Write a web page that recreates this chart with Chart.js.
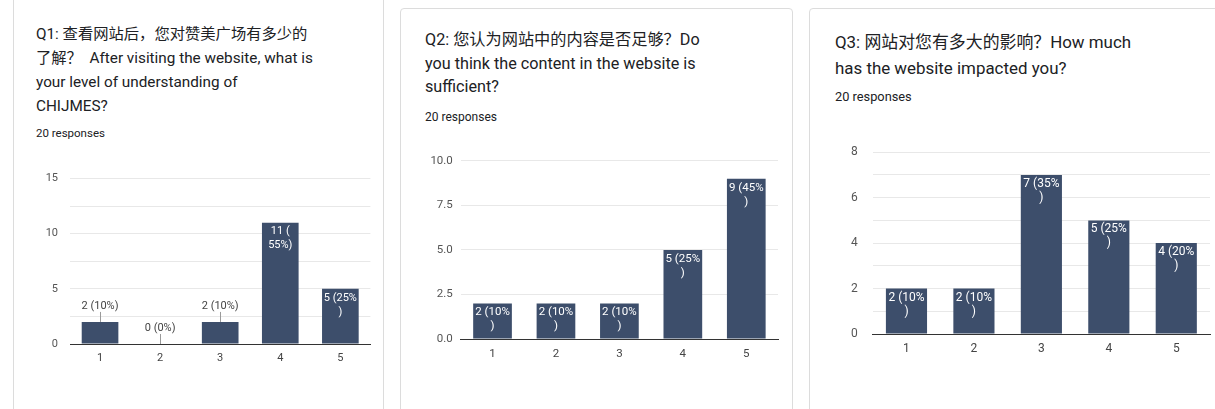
<!DOCTYPE html>
<html>
<head>
<meta charset="utf-8">
<script src="https://cdn.jsdelivr.net/npm/chart.js@4/dist/chart.umd.min.js"></script>
<style>
  html, body { margin:0; padding:0; background:#ffffff; width:1215px; height:409px; overflow:hidden; }
  .card { position:absolute; background:#fff; border:1px solid #dcdcdc; box-sizing:border-box; }
  .title { position:absolute; color:#202124; font-family:Roboto, "Noto Sans CJK SC", sans-serif; white-space:nowrap; }
  .resp { position:absolute; color:#202124; font-family:Roboto, sans-serif; white-space:nowrap; }
  canvas { position:absolute; }
</style>
</head>
<body>
<div class="card" style="left:13px;top:-2px;width:371px;height:430px;border-top:none;"></div>
<div class="card" style="left:400px;top:8px;width:393px;height:430px;border-radius:4px;"></div>
<div class="card" style="left:809px;top:8px;width:420px;height:430px;border-radius:4px;"></div>

<div class="title" style="left:36px;top:22px;font-size:15.3px;line-height:24px;">Q1: 查看网站后，您对赞美广场有多少的<br>了解？&nbsp; After visiting the website, what is<br>your level of understanding of<br>CHIJMES?</div>
<div class="resp" style="left:36px;top:125px;font-size:11.5px;line-height:16px;">20 responses</div>

<div class="title" style="left:425px;top:28px;font-size:16.2px;line-height:23.5px;">Q2: 您认为网站中的内容是否足够？Do<br>you think the content in the website is<br>sufficient?</div>
<div class="resp" style="left:425px;top:109px;font-size:12px;line-height:16px;">20 responses</div>

<div class="title" style="left:835px;top:29px;font-size:16.9px;line-height:26px;">Q3: 网站对您有多大的影响？How much<br>has the website impacted you?</div>
<div class="resp" style="left:835px;top:89px;font-size:12.8px;line-height:16px;">20 responses</div>

<canvas id="c1" width="350" height="215" style="left:30px;top:160px;"></canvas>
<canvas id="c2" width="370" height="225" style="left:420px;top:146px;"></canvas>
<canvas id="c3" width="385" height="235" style="left:830px;top:130px;"></canvas>

<script>
// ---- data ----
const categories = ['1', '2', '3', '4', '5'];

const q1Values = [2, 0, 2, 11, 5];
const q1Labels = [['2 (10%)'], ['0 (0%)'], ['2 (10%)'], ['11 (', '55%)'], ['5 (25%', ')']];
const q1YTicks = [0, 5, 10, 15];

const q2Values = [2, 2, 2, 5, 9];
const q2Labels = [['2 (10%', ')'], ['2 (10%', ')'], ['2 (10%', ')'], ['5 (25%', ')'], ['9 (45%', ')']];
const q2YTicks = [0, 2.5, 5, 7.5, 10];

const q3Values = [2, 2, 7, 5, 4];
const q3Labels = [['2 (10%', ')'], ['2 (10%', ')'], ['7 (35%', ')'], ['5 (25%', ')'], ['4 (20%', ')']];
const q3YTicks = [0, 2, 4, 6, 8];

// ---- drawing ----
const BAR = '#3d4e6b';
const FONT = 'Roboto, Arial, sans-serif';

const barLabelPlugin = {
  id: 'barLabels',
  afterDatasetsDraw(chart, args, opts) {
    const ctx = chart.ctx;
    const meta = chart.getDatasetMeta(0);
    const labels = opts.labels;
    ctx.save();
    ctx.font = opts.fontSize + 'px ' + FONT;
    ctx.textAlign = 'center';
    ctx.textBaseline = 'middle';
    meta.data.forEach((bar, i) => {
      const lines = labels[i];
      const h = bar.base - bar.y;
      if (h >= 30) {
        ctx.fillStyle = '#ffffff';
        lines.forEach((t, k) => ctx.fillText(t, bar.x, bar.y + 9 + k * 14));
      } else {
        const cy = bar.y - 16;
        ctx.fillStyle = '#444444';
        ctx.fillText(lines.join(''), bar.x, cy);
        ctx.strokeStyle = '#9a9a9a';
        ctx.lineWidth = 1;
        ctx.beginPath();
        ctx.moveTo(Math.round(bar.x) + 0.5, cy + 6);
        ctx.lineTo(Math.round(bar.x) + 0.5, bar.y);
        ctx.stroke();
      }
    });
    ctx.restore();
  }
};

function makeChart(id, values, labels, yTicks, step, decimals, geo) {
  const yMax = yTicks[yTicks.length - 1];
  new Chart(document.getElementById(id), {
    type: 'bar',
    data: {
      labels: categories,
      datasets: [{ data: values, backgroundColor: BAR, borderWidth: 0,
                   categoryPercentage: 1.0, barPercentage: 0.61 }]
    },
    options: {
      responsive: false,
      animation: false,
      layout: { padding: { top: geo.top, right: geo.right, left: 0, bottom: 0 } },
      plugins: {
        legend: { display: false },
        tooltip: { enabled: false },
        barLabels: { labels: labels, fontSize: geo.font }
      },
      scales: {
        x: {
          grid: { display: false, drawTicks: false },
          border: { display: true, color: '#333333', width: 1 },
          ticks: { color: '#444444', padding: 8, font: { family: FONT, size: geo.font } },
          afterFit: (s) => { s.height = geo.xh; }
        },
        y: {
          min: 0, max: yMax,
          grid: { color: '#e8e8e8', drawTicks: false },
          border: { display: false },
          ticks: {
            stepSize: step,
            color: '#555555',
            padding: geo.ypad,
            font: { family: FONT, size: geo.font },
            callback: (v) => yTicks.some(t => Math.abs(t - v) < 1e-9) ? Number(v).toFixed(decimals) : ''
          },
          afterFit: (s) => { s.width = geo.yw; }
        }
      }
    },
    plugins: [barLabelPlugin]
  });
}

makeChart('c1', q1Values, q1Labels, q1YTicks, 2.5, 0,
  { top: 13, right: 9.6, xh: 31, yw: 40, ypad: 12, font: 11 });
makeChart('c2', q2Values, q2Labels, q2YTicks, 2.5, 1,
  { top: 13, right: 12, xh: 32, yw: 40.8, ypad: 8, font: 11.5 });
makeChart('c3', q3Values, q3Labels, q3YTicks, 1, 0,
  { top: 13, right: 5, xh: 31, yw: 42.75, ypad: 15, font: 12 });
</script>
</body>
</html>
